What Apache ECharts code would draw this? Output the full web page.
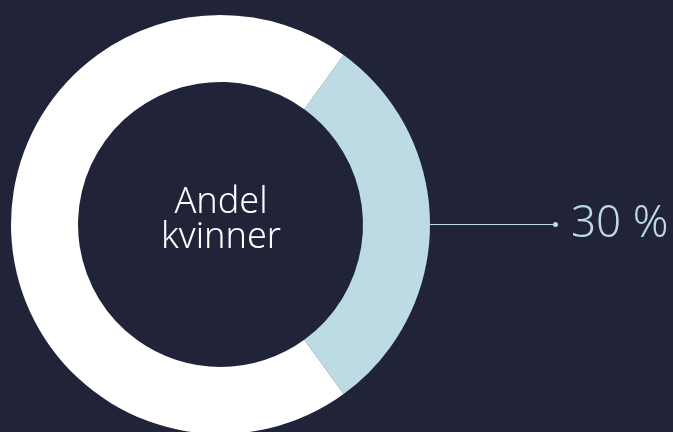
<!DOCTYPE html>
<html>
<head>
<meta charset="utf-8">
<script src="https://cdn.jsdelivr.net/npm/echarts@6/dist/echarts.min.js"></script>
<style>
  html, body { margin: 0; padding: 0; background: #212439; }
  #chart { width: 673px; height: 432px; }
</style>
</head>
<body>
<div id="chart"></div>
<script>
// share of women vs the rest
const categories = ['Kvinner', 'Menn']
const values = [30, 70]
const labels = ['30 %', '']
const centerText = 'Andel\nkvinner'

const BLUE = '#bcdbe4'

const chart = echarts.init(document.getElementById('chart'))

chart.setOption({
  backgroundColor: '#212439',
  animation: false,
  title: {
    text: centerText,
    left: 221,
    top: 185,
    padding: 0,
    textAlign: 'center',
    textStyle: {
      color: '#ffffff',
      fontFamily: 'Noto Sans',
      fontWeight: 300,
      fontSize: 36,
      lineHeight: 35,
    },
  },
  series: [
    {
      type: 'pie',
      center: [220.5, 224.5],
      radius: [142.5, 209.5],
      startAngle: 54,
      clockwise: true,
      silent: true,
      data: categories.map((name, i) => ({
        name,
        value: values[i],
        itemStyle: { color: i === 0 ? BLUE : '#ffffff' },
        label: { show: i === 0 },
        labelLine: { show: i === 0 },
      })),
      label: {
        formatter: (p) => '{d|}{v|' + labels[p.dataIndex] + '}',
        distanceToLabelLine: 0,
        rich: {
          d: {
            width: 5,
            height: 5,
            borderRadius: 2.5,
            backgroundColor: BLUE,
          },
          v: {
            color: BLUE,
            fontFamily: 'Noto Sans',
            fontWeight: 300,
            fontSize: 44,
            padding: [0, 0, 0, 13],
          },
        },
      },
      labelLine: {
        length: 0,
        length2: 123,
        lineStyle: { color: BLUE, width: 1 },
      },
    },
  ],
})
</script>
</body>
</html>
